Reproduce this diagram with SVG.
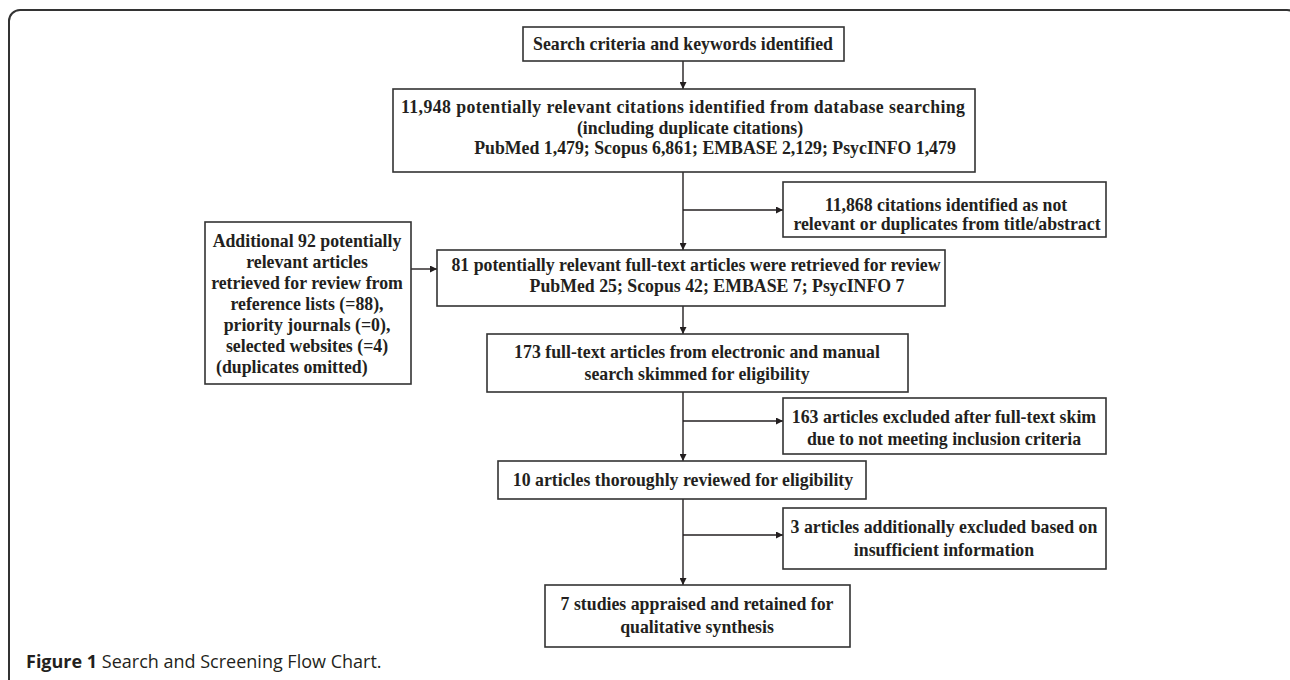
<svg xmlns="http://www.w3.org/2000/svg" width="1290" height="680" viewBox="0 0 1290 680">
<defs>
<marker id="ah" viewBox="0 0 10 10" refX="10" refY="5" markerWidth="7" markerHeight="7" markerUnits="userSpaceOnUse" orient="auto">
<path d="M0,0 L10,5 L0,10 z" fill="#231f20"/>
</marker>
<style>
.box{fill:#fff;stroke:#333;stroke-width:1.6}
.t{font-family:"Liberation Serif","Times New Roman",serif;font-weight:bold;font-size:17.8px;fill:#231f20;text-anchor:middle}
.tl{font-family:"Liberation Serif","Times New Roman",serif;font-weight:bold;font-size:17.8px;fill:#231f20}
.ca{fill:none;stroke:#231f20;stroke-width:1.4;marker-end:url(#ah)}
.cap{font-family:"Open Sans","Noto Sans",sans-serif;font-size:18px;fill:#231f20}
</style>
</defs>
<rect width="1290" height="680" fill="#fff"/>
<path d="M9,680 V21 A11,11 0 0 1 20,10 H1287 A11,11 0 0 1 1298,21" fill="none" stroke="#333" stroke-width="2"/>

<g id="connectors">
<line class="ca" x1="683" y1="61" x2="683" y2="89"/>
<line class="ca" x1="683" y1="172" x2="683" y2="250"/>
<line class="ca" x1="683" y1="210" x2="783" y2="210"/>
<line class="ca" x1="411" y1="269" x2="437" y2="269"/>
<line class="ca" x1="683" y1="306" x2="683" y2="334"/>
<line class="ca" x1="683" y1="392" x2="683" y2="461"/>
<line class="ca" x1="683" y1="421" x2="783" y2="421"/>
<line class="ca" x1="683" y1="499" x2="683" y2="585"/>
<line class="ca" x1="683" y1="535" x2="783" y2="535"/>
</g>

<g id="n1">
<rect class="box" x="523" y="27" width="321" height="34"/>
<text class="t" x="683" y="50">Search criteria and keywords identified</text>
</g>
<g id="n2">
<rect class="box" x="393" y="89" width="582" height="83"/>
<text class="t" x="683" y="113" textLength="564" lengthAdjust="spacing">11,948 potentially relevant citations identified from database searching</text>
<text class="t" x="690" y="134">(including duplicate citations)</text>
<text class="t" x="715" y="154">PubMed 1,479; Scopus 6,861; EMBASE 2,129; PsycINFO 1,479</text>
</g>
<g id="n3">
<rect class="box" x="783" y="182" width="323" height="55"/>
<text class="t" x="946" y="211">11,868 citations identified as not</text>
<text class="t" x="947" y="230">relevant or duplicates from title/abstract</text>
</g>
<g id="n4">
<rect class="box" x="205" y="222" width="206" height="162"/>
<text class="t" x="307" y="247">Additional 92 potentially</text>
<text class="t" x="307" y="268">relevant articles</text>
<text class="t" x="307" y="289">retrieved for review from</text>
<text class="t" x="307" y="310">reference lists (=88),</text>
<text class="t" x="307" y="331">priority journals (=0),</text>
<text class="t" x="307" y="352">selected websites (=4)</text>
<text class="tl" x="216" y="373">(duplicates omitted)</text>
</g>
<g id="n5">
<rect class="box" x="437" y="250" width="508" height="56"/>
<text class="t" x="696" y="271">81 potentially relevant full-text articles were retrieved for review</text>
<text class="t" x="717" y="292">PubMed 25; Scopus 42; EMBASE 7; PsycINFO 7</text>
</g>
<g id="n6">
<rect class="box" x="487" y="334" width="421" height="58"/>
<text class="t" x="697" y="358">173 full-text articles from electronic and manual</text>
<text class="t" x="697" y="380">search skimmed for eligibility</text>
</g>
<g id="n7">
<rect class="box" x="783" y="398" width="323" height="56"/>
<text class="t" x="944" y="423">163 articles excluded after full-text skim</text>
<text class="t" x="944" y="445">due to not meeting inclusion criteria</text>
</g>
<g id="n8">
<rect class="box" x="498" y="461" width="368" height="38"/>
<text class="t" x="683" y="486">10 articles thoroughly reviewed for eligibility</text>
</g>
<g id="n9">
<rect class="box" x="783" y="508" width="323" height="61"/>
<text class="t" x="944" y="533">3 articles additionally excluded based on</text>
<text class="t" x="944" y="556">insufficient information</text>
</g>
<g id="n10">
<rect class="box" x="545" y="585" width="305" height="62"/>
<text class="t" x="697" y="610">7 studies appraised and retained for</text>
<text class="t" x="697" y="633">qualitative synthesis</text>
</g>
<text class="cap" x="26" y="668"><tspan font-weight="bold">Figure 1</tspan> Search and Screening Flow Chart.</text>
</svg>
